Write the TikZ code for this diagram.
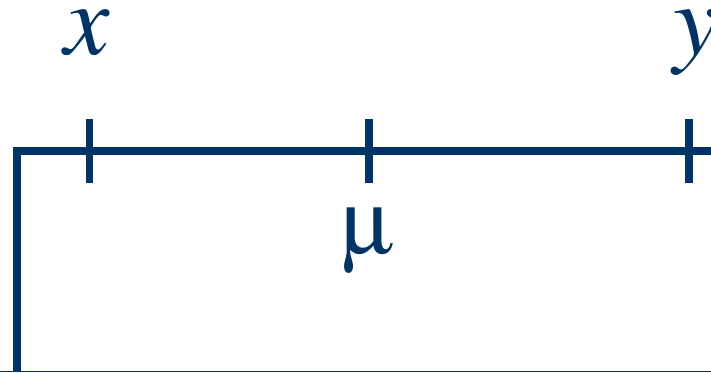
\documentclass[tikz,border=0pt]{standalone}
\usepackage{mathptmx}
\usepackage[Symbol]{upgreek}
\usepackage{tkz-euclide}
\definecolor{LineClr}{rgb}{0,0.2,0.4}
\tikzset{lbl/.style={anchor=base,inner sep=0pt,text=LineClr,font=\fontsize{29}{34}\selectfont}}

\begin{document}
\begin{tikzpicture}[line cap=butt]
\useasboundingbox (0,0) rectangle (7.11,3.72);
\tkzDefPoints{0.17/0/A,0.17/2.21/B,7.3/2.21/E}
\tkzDefPoints{0.895/1.89/P,0.895/2.53/Q,3.69/1.89/R,3.69/2.53/S,6.89/1.89/U,6.89/2.53/V}
\tkzDefPoints{0/0.005/G,7.11/0.005/H}
\tkzDefPoints{0.875/3.18/X,3.68/1.19/M,6.96/3.18/Y}

\tkzDrawSegment[line width=0.4pt,color=LineClr](G,H)
\tkzDrawPolySeg[line width=2.27pt,color=LineClr,line join=miter,line cap=butt](A,B,E)
\tkzDrawSegments[line width=2.27pt,color=LineClr,line cap=butt](P,Q R,S U,V)

\node[lbl] (xlab) at (X) {$x$};
\node[lbl,font=\fontsize{26}{30}\selectfont] (mulab) at (M) {$\upmu$};
\node[lbl] (ylab) at (Y) {$y$};

\end{tikzpicture}
\end{document}
